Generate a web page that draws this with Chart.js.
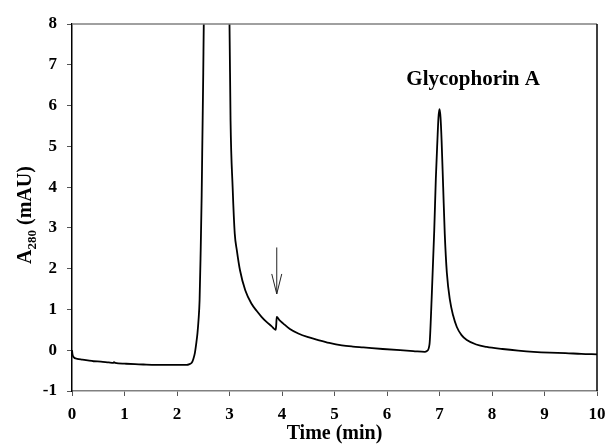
<!DOCTYPE html>
<html>
<head>
<meta charset="utf-8">
<script src="https://cdn.jsdelivr.net/npm/chart.js@4/dist/chart.umd.min.js"></script>
<style>
  html, body { margin: 0; padding: 0; background: #fff; }
  #wrap { width: 605px; height: 446px; }
</style>
</head>
<body>
<div id="wrap"><canvas id="chromatogram"></canvas></div>
<script>
// retention time (min) and absorbance A280 (mAU)
const timeMin = [
  0.00, 0.01, 0.03, 0.10, 0.20, 0.30, 0.41, 0.55, 0.70, 0.79, 0.80, 0.82,
  1.00, 1.20, 1.36, 1.60, 1.80, 2.00, 2.18, 2.24, 2.28, 2.31, 2.34, 2.37,
  2.39, 2.41, 2.43, 2.45, 2.47, 2.48, 2.50, 2.51, 2.55, 2.75, 2.95, 3.00,
  3.02, 3.06, 3.10, 3.14, 3.20, 3.30, 3.42, 3.52, 3.61, 3.70, 3.80, 3.88,
  3.89, 3.90, 3.95, 4.02, 4.15, 4.31, 4.50, 4.69, 4.90, 5.14, 5.35, 5.55,
  5.92, 6.25, 6.50, 6.72, 6.76, 6.81, 6.85, 6.90, 6.93, 6.96, 6.98, 7.00,
  7.02, 7.04, 7.07, 7.10, 7.14, 7.20, 7.26, 7.33, 7.42, 7.52, 7.70, 7.90,
  8.20, 8.50, 8.79, 9.10, 9.40, 9.70, 10.00
];
const absorbance = [
  0.00, -0.10, -0.17, -0.21, -0.23, -0.25, -0.27, -0.28, -0.30, -0.31, -0.29, -0.31,
  -0.33, -0.34, -0.35, -0.36, -0.36, -0.36, -0.36, -0.34, -0.31, -0.22, -0.07, 0.20,
  0.42, 0.74, 1.22, 2.37, 3.80, 4.82, 6.80, 8.00, 10.5, 12.0, 10.0, 8.00,
  5.63, 3.99, 2.86, 2.45, 1.96, 1.47, 1.14, 0.96, 0.82, 0.70, 0.59, 0.50,
  0.62, 0.82, 0.74, 0.66, 0.52, 0.41, 0.32, 0.25, 0.18, 0.12, 0.09, 0.07,
  0.03, 0.00, -0.02, -0.04, -0.02, 0.15, 1.25, 2.94, 4.20, 5.14, 5.70, 5.91,
  5.70, 5.14, 4.00, 2.86, 1.90, 1.22, 0.85, 0.57, 0.37, 0.25, 0.14, 0.08,
  0.03, -0.01, -0.04, -0.06, -0.07, -0.09, -0.10
];
const xTicks = [0, 1, 2, 3, 4, 5, 6, 7, 8, 9, 10];
const yTicks = [-1, 0, 1, 2, 3, 4, 5, 6, 7, 8];
const peakLabel = 'Glycophorin A';
const peakLabelPos = [7.64, 6.5];     // time, mAU (baseline of label)
const arrowFrom = [3.9, 2.52];
const arrowTo = [3.9, 1.38];

const serif = '"Liberation Serif", "Times New Roman", serif';

// frame, y title with subscript, peak label and arrow
const extras = {
  id: 'extras',
  afterDraw(chart) {
    const { ctx, chartArea: a, scales: { x, y } } = chart;
    ctx.save();
    // top and right border
    ctx.lineWidth = 1.5;
    ctx.strokeStyle = '#808080';
    ctx.beginPath(); ctx.moveTo(a.left, a.top); ctx.lineTo(a.right, a.top); ctx.stroke();
    ctx.strokeStyle = '#000';
    ctx.beginPath(); ctx.moveTo(a.right, a.top); ctx.lineTo(a.right, a.bottom); ctx.stroke();

    // y title: A280 (mAU) with subscript
    ctx.translate(31, 215);
    ctx.rotate(-Math.PI / 2);
    ctx.fillStyle = '#000';
    ctx.textBaseline = 'alphabetic';
    const big = 'bold 20px ' + serif, small = 'bold 13px ' + serif;
    ctx.font = big; const wA = ctx.measureText('A').width;
    ctx.font = small; const wS = ctx.measureText('280').width;
    ctx.font = big; const wR = ctx.measureText(' (mAU)').width;
    let cx = -(wA + wS + wR) / 2;
    ctx.font = big; ctx.textAlign = 'left';
    ctx.fillText('A', cx, 0); cx += wA;
    ctx.font = small; ctx.fillText('280', cx, 5); cx += wS;
    ctx.font = big; ctx.fillText(' (mAU)', cx, 0);
    ctx.restore();

    ctx.save();
    // peak label
    ctx.fillStyle = '#000';
    ctx.font = 'bold 21px ' + serif;
    ctx.textAlign = 'center';
    ctx.textBaseline = 'alphabetic';
    ctx.fillText(peakLabel, x.getPixelForValue(peakLabelPos[0]), y.getPixelForValue(peakLabelPos[1]));

    // arrow
    const ax = x.getPixelForValue(arrowFrom[0]);
    const ay0 = y.getPixelForValue(arrowFrom[1]);
    const ay1 = y.getPixelForValue(arrowTo[1]);
    ctx.strokeStyle = '#222';
    ctx.lineWidth = 1;
    ctx.beginPath();
    ctx.moveTo(ax, ay0); ctx.lineTo(ax, ay1);
    ctx.moveTo(ax - 5, ay1 - 20); ctx.lineTo(ax, ay1); ctx.lineTo(ax + 5, ay1 - 20);
    ctx.stroke();
    ctx.restore();
  }
};

const ctx = document.getElementById('chromatogram').getContext('2d');
new Chart(ctx, {
  type: 'line',
  data: {
    datasets: [{
      data: timeMin.map((t, i) => ({ x: t, y: absorbance[i] })),
      borderColor: '#000',
      borderWidth: 1.8,
      pointRadius: 0,
      cubicInterpolationMode: 'monotone',
      fill: false
    }]
  },
  options: {
    responsive: true,
    maintainAspectRatio: false,
    animation: false,
    layout: { padding: { top: 24, right: 0, left: 0, bottom: 0 } },
    plugins: { legend: { display: false }, tooltip: { enabled: false } },
    scales: {
      x: {
        type: 'linear',
        min: 0, max: 10,
        afterFit(s) { s.height = 55; s.paddingRight = 8; s.paddingLeft = 0; },
        afterBuildTicks(s) { s.ticks = xTicks.map(v => ({ value: v })); },
        grid: { drawOnChartArea: false, drawTicks: true, tickLength: 5, color: '#555', lineWidth: 1 },
        border: { color: '#808080', width: 1.5 },
        ticks: { color: '#000', padding: 8, maxRotation: 0, font: { family: serif, size: 17, weight: 'bold' } },
        title: { display: true, text: 'Time (min)', color: '#000', padding: { top: 0, bottom: 0 },
                 font: { family: serif, size: 20, weight: 'bold' } }
      },
      y: {
        min: -1, max: 8,
        afterFit(s) { s.width = 72; },
        afterBuildTicks(s) { s.ticks = yTicks.map(v => ({ value: v })); },
        grid: { drawOnChartArea: false, drawTicks: true, tickLength: 5, color: '#555', lineWidth: 1 },
        border: { color: '#000', width: 1.5 },
        ticks: { color: '#000', padding: 10, font: { family: serif, size: 17, weight: 'bold' } }
      }
    }
  },
  plugins: [extras]
});
</script>
</body>
</html>
